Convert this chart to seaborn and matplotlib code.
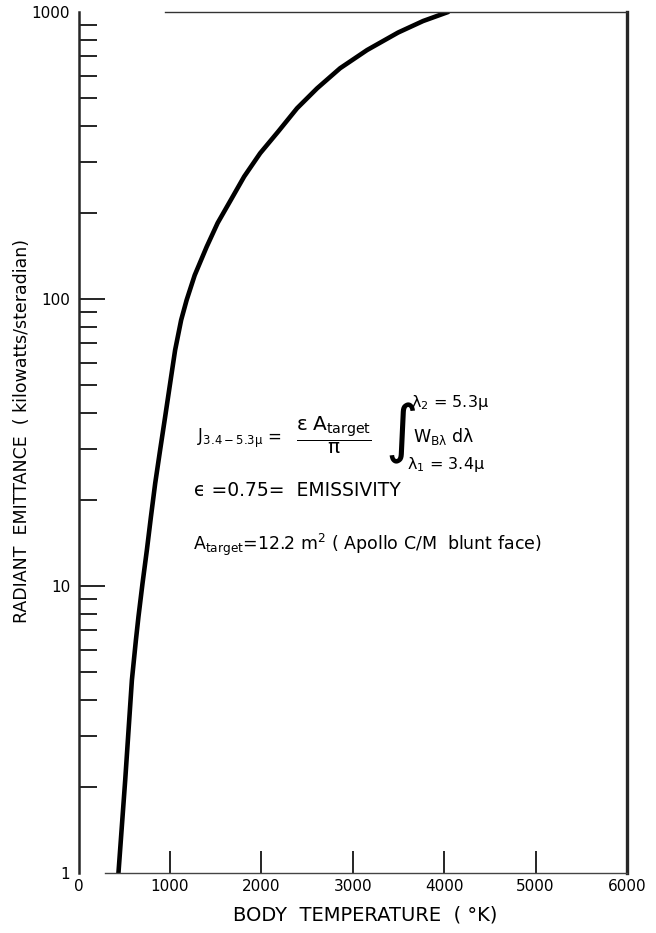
import matplotlib
matplotlib.use("Agg")
import matplotlib.pyplot as plt
import seaborn as sns
import pandas as pd

# Data
temperature_K = [437, 511, 584, 628, 656, 700, 748, 792, 839, 893, 948, 1003,
                 1057, 1123, 1183, 1271, 1402, 1522, 1665, 1812, 1987, 2184,
                 2391, 2610, 2862, 3157, 3496, 3769, 4043]
emittance_kw_sr = [1.0, 2.11, 4.70, 6.48, 7.82, 10.2, 13.35, 17.4, 22.8, 29.8,
                   38.9, 51.0, 66.4, 84.5, 99.2, 121, 152, 184, 221, 267, 322,
                   383, 462, 542, 637, 737, 848, 930, 1000]
x_ticks = [0, 1000, 2000, 3000, 4000, 5000, 6000]
y_ticks = [1, 10, 100, 1000]
y_tick_labels = ["1", "10", "100", "1000"]

sns.set_style("ticks")
plt.rcParams["font.family"] = ["DejaVu Sans"]
plt.rcParams["mathtext.default"] = "regular"
plt.rcParams["text.color"] = "black"
plt.rcParams["axes.labelcolor"] = "black"
plt.rcParams["xtick.color"] = "black"
plt.rcParams["ytick.color"] = "black"

W, H = 656, 933
df = pd.DataFrame({"T": temperature_K, "J": emittance_kw_sr})

fig = plt.figure(figsize=(W / 100, H / 100), dpi=100)
ax = fig.add_axes([78.5 / W, 1 - 873 / H, (627 - 78.5) / W, (873 - 12) / H])

sns.lineplot(data=df, x="T", y="J", ax=ax, color="black", linewidth=3.3)
ax.lines[0].set_solid_joinstyle("round")

ax.set_yscale("log")
ax.set_xlim(0, 6000)
ax.set_ylim(1, 1000)
ax.set_xticks(x_ticks)
ax.set_xticklabels([str(v) for v in x_ticks])
ax.set_yticks(y_ticks)
ax.set_yticklabels(y_tick_labels)
ax.yaxis.set_minor_locator(matplotlib.ticker.LogLocator(base=10, subs=range(2, 10)))
ax.yaxis.set_minor_formatter(matplotlib.ticker.NullFormatter())

ax.tick_params(axis="x", which="major", direction="in", length=16, width=1.2,
               labelsize=11, pad=4)
ax.tick_params(axis="y", which="major", direction="in", length=19, width=1.2,
               labelsize=11, pad=6)
ax.tick_params(axis="y", which="minor", direction="in", length=13, width=1.2)

for t in (ax.xaxis.get_major_ticks()[0], ax.xaxis.get_major_ticks()[-1]):
    t.tick1line.set_visible(False)
for t in (ax.yaxis.get_major_ticks()[0], ax.yaxis.get_major_ticks()[-1]):
    t.tick1line.set_visible(False)

for side in ["left", "right", "top", "bottom"]:
    ax.spines[side].set_visible(True)
ax.spines["left"].set_linewidth(1.8)
ax.spines["right"].set_linewidth(2.4)
ax.spines["top"].set_linewidth(1.0)
ax.spines["bottom"].set_linewidth(1.0)
ax.spines["top"].set_color("#333333")
ax.spines["bottom"].set_color("#444444")
ax.spines["top"].set_bounds(950, 6000)
ax.spines["bottom"].set_bounds(290, 6000)

ax.set_xlabel("BODY  TEMPERATURE  ( °K)", fontsize=14)
ax.xaxis.label.set_va("center")
ax.xaxis.set_label_coords((365 - 78.5) / 548.5, -(915 - 873) / 861)
ax.set_ylabel("RADIANT  EMITTANCE  ( kilowatts/steradian)", fontsize=12.5)
ax.yaxis.label.set_va("center")
ax.yaxis.set_label_coords((22 - 78.5) / 548.5, 1 - (431 - 12) / 861)


def fx(x):
    return x / W


def fy(y):
    return 1 - y / H


# Formula, piece by piece
fig.text(fx(197), fy(438), r"$J_{3.4-5.3\mu}$", fontsize=12, ha="left", va="center")
fig.text(fx(274), fy(437), "=", fontsize=12, ha="center", va="center")
fig.text(fx(334), fy(435), r"$\dfrac{\epsilon\;A_{target}}{\pi}$", fontsize=14.5,
         ha="center", va="center")
fig.text(fx(402), fy(433), "∫", fontsize=45, ha="center", va="center")
fig.text(fx(411), fy(403), r"$\lambda_2$ = 5.3$\mu$", fontsize=11.5, ha="left", va="center")
fig.text(fx(413), fy(436), r"$W_{B\lambda}$ d$\lambda$", fontsize=12.5, ha="left", va="center")
fig.text(fx(407), fy(465), r"$\lambda_1$ = 3.4$\mu$", fontsize=11.5, ha="left", va="center")

fig.text(fx(194), fy(491), "ϵ =0.75=  EMISSIVITY", fontsize=13.5, ha="left", va="center")
fig.text(fx(193), fy(545), r"$A_{target}$=12.2 m$^2$ ( Apollo C/M  blunt face)",
         fontsize=12.5, ha="left", va="center")

fig.savefig("out.png", dpi=100)
